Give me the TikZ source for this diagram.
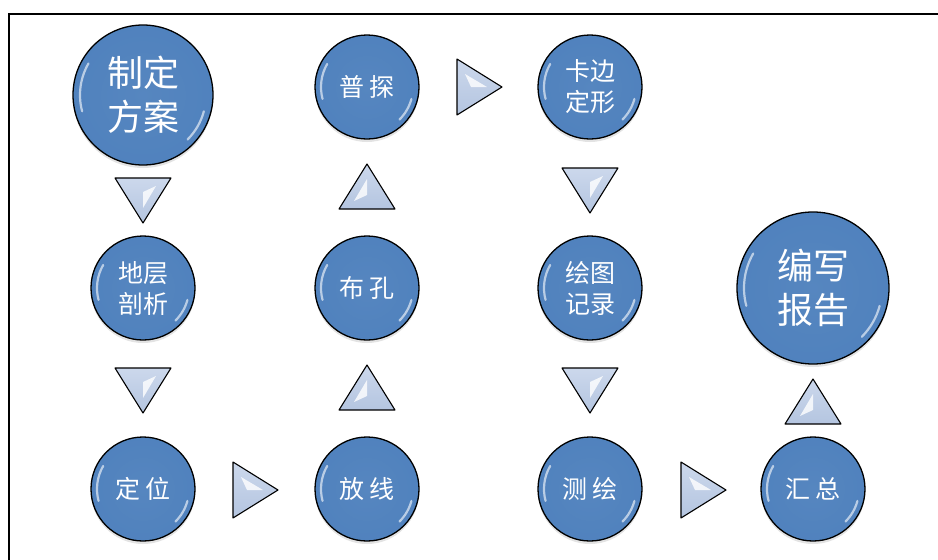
\documentclass[tikz,border=0pt]{standalone}
\usepackage{fontspec}
\newfontfamily\cjk{Noto Sans CJK SC}
\usetikzlibrary{shadows}
\definecolor{ballblue}{RGB}{79,129,189}
\definecolor{trifill}{RGB}{204,216,236}
\definecolor{trishade}{RGB}{180,197,224}
\pgfdeclareradialshading{ballshade}{\pgfpoint{0bp}{0bp}}{%
  color(0bp)=(ballblue!96!white); color(30bp)=(ballblue); color(44bp)=(ballblue);
  color(48bp)=(ballblue!88!black); color(50bp)=(ballblue!75!black)}
\tikzset{
  ball/.style={circle, draw=black, line width=1.3pt, inner sep=0pt,
    shading=ballshade,
    text=white, align=center, minimum size=104pt,
    font=\cjk\fontsize{25}{31}\selectfont,
    drop shadow={shadow xshift=0pt, shadow yshift=-3pt, opacity=0.22}},
  bigball/.style={ball, minimum size=140pt, font=\cjk\fontsize{36}{44}\selectfont},
  gloss/.style={white, line width=2.2pt, opacity=0.6, line cap=round},
  tribody/.style={draw=black, line width=1.1pt, top color=trifill, bottom color=trishade, line join=round},
  trigloss/.style={fill=white, opacity=0.8},
  frame/.style={draw=black, line width=2pt},
  pics/tri/.style={code={
    \path[tribody] (-22,28) -- (23,0) -- (-22,-28) -- cycle;
    \path[trigloss] (-14,13) -- (8,0) -- (-8,0) -- cycle;
  }}
}
\newcommand\glossy[2]{%
  \draw[gloss] ([shift={(195:#2)}]#1.center) arc[start angle=195, end angle=150, radius=#2];
  \draw[gloss] ([shift={(-15:#2)}]#1.center) arc[start angle=-15, end angle=-45, radius=#2];
}
\begin{document}
\begin{tikzpicture}[x=1pt,y=1pt]
\useasboundingbox (0,0) rectangle (938,-560);
\path[frame] (9,-14) rectangle (950,-575);

\node[bigball] (fa) at (143,-95) {制定\\方案};
\node[ball] (pt) at (367,-87) {普 探};
\node[ball] (kb) at (590,-87) {卡边\\定形};
\node[ball] (dc) at (143,-288) {地层\\剖析};
\node[ball] (bk) at (367,-288) {布 孔};
\node[ball] (ht) at (590,-288) {绘图\\记录};
\node[bigball, minimum size=152pt] (bg) at (813,-288) {编写\\报告};
\node[ball] (dw) at (143,-489) {定 位};
\node[ball] (fx) at (367,-489) {放 线};
\node[ball] (ch) at (590,-489) {测 绘};
\node[ball] (hz) at (813,-489) {汇 总};

\glossy{fa}{63}
\glossy{pt}{46}
\glossy{kb}{46}
\glossy{dc}{46}
\glossy{bk}{46}
\glossy{ht}{46}
\glossy{bg}{69}
\glossy{dw}{46}
\glossy{fx}{46}
\glossy{ch}{46}
\glossy{hz}{46}

% triangles
\pic[rotate=-90] (t1) at (143,-200) {tri};
\pic[rotate=-90] (t2) at (143,-390) {tri};
\pic (t3) at (255,-490) {tri};
\pic[rotate=90] (t4) at (367,-388) {tri};
\pic[rotate=90] (t5) at (367,-187) {tri};
\pic (t6) at (479,-87) {tri};
\pic[rotate=-90] (t7) at (590,-190) {tri};
\pic[rotate=-90] (t8) at (590,-390) {tri};
\pic (t9) at (703,-490) {tri};
\pic[rotate=90] (t10) at (813,-402) {tri};
\end{tikzpicture}
\end{document}
